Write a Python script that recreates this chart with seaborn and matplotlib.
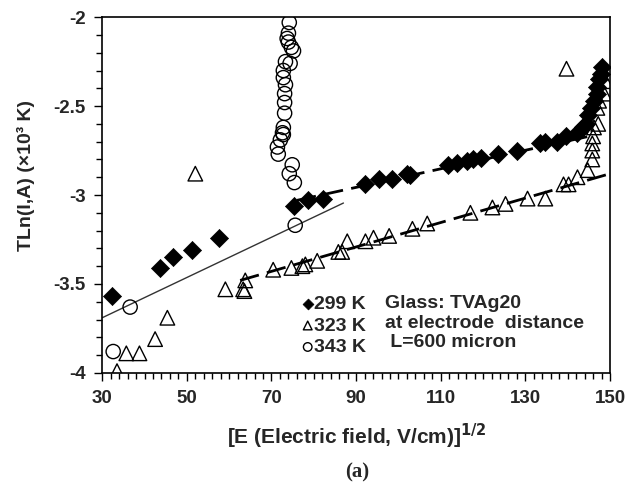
import numpy as np
import pandas as pd
import matplotlib
matplotlib.use("Agg")
import matplotlib.pyplot as plt
from matplotlib.ticker import MultipleLocator
import seaborn as sns

# --- data ---
x_299 = [32.4, 43.7, 46.8, 51.3, 57.7, 75.4, 78.7, 82.2, 92.2, 95.3, 98.5, 102.0,
         102.8, 111.8, 113.9, 116.3, 117.7, 119.4, 123.6, 127.9, 133.5, 134.7,
         137.5, 139.5, 142.3, 143.5, 144.2, 144.9, 145.6, 146.3, 147.0, 147.0,
         147.5, 147.8, 148.0]
y_299 = [-3.57, -3.41, -3.35, -3.31, -3.24, -3.06, -3.03, -3.02, -2.94, -2.91,
         -2.91, -2.88, -2.89, -2.83, -2.82, -2.81, -2.80, -2.79, -2.77, -2.75,
         -2.71, -2.70, -2.70, -2.67, -2.65, -2.62, -2.60, -2.55, -2.51, -2.47,
         -2.43, -2.39, -2.35, -2.32, -2.28]

x_323 = [33.5, 35.7, 38.8, 42.5, 45.4, 52.0, 59.1, 63.3, 63.6, 63.8, 70.4, 74.7,
         77.3, 78.0, 80.8, 85.8, 86.7, 87.9, 92.2, 94.1, 97.8, 103.3, 106.8,
         117.0, 122.2, 125.3, 130.5, 134.7, 139.0, 140.2, 139.7, 142.3, 144.7,
         145.8, 145.8, 145.8, 146.0, 146.2, 147.2, 147.0, 147.4, 148.6, 148.9]
y_323 = [-3.99, -3.89, -3.89, -3.81, -3.69, -2.88, -3.53, -3.53, -3.54, -3.48,
         -3.42, -3.41, -3.40, -3.39, -3.37, -3.32, -3.32, -3.26, -3.26, -3.24,
         -3.23, -3.19, -3.16, -3.10, -3.07, -3.05, -3.02, -3.02, -2.94, -2.94,
         -2.29, -2.90, -2.86, -2.80, -2.75, -2.71, -2.67, -2.62, -2.60, -2.51,
         -2.47, -2.43, -2.36]

x_343 = [32.6, 36.6, 75.6, 74.2, 74.0, 73.7, 74.0, 74.7, 75.2, 73.3, 74.4, 72.8,
         72.8, 73.3, 73.1, 73.1, 73.1, 72.8, 72.6, 72.8, 72.1, 71.4, 71.6, 74.9,
         74.2, 75.4]
y_343 = [-3.88, -3.63, -3.17, -2.03, -2.09, -2.12, -2.14, -2.17, -2.19, -2.25,
         -2.26, -2.30, -2.34, -2.38, -2.43, -2.48, -2.54, -2.62, -2.65, -2.66,
         -2.69, -2.73, -2.77, -2.83, -2.88, -2.93]

# linear fit lines as drawn in the figure (end points)
fit_299_x = [76.0, 145.0]
fit_299_y = [-3.03, -2.67]
fit_323_x = [62.6, 150.0]
fit_323_y = [-3.48, -2.88]
fit_343_x = [30.0, 87.0]
fit_343_y = [-3.69, -3.045]

labels = ["299 K", "323 K", "343 K"]
x_ticks = [30, 50, 70, 90, 110, 130, 150]
y_ticks = [-4, -3.5, -3, -2.5, -2]

sns.set_style("white")
plt.rcParams["font.family"] = ["Liberation Sans", "DejaVu Sans"]
plt.rcParams["font.weight"] = "bold"

fig = plt.figure(figsize=(6.27, 4.90), dpi=100)
ax = fig.add_axes([0.163, 0.239, 0.810, 0.726])

# fit lines
sns.lineplot(x=fit_343_x, y=fit_343_y, ax=ax, color="#333333", linewidth=1.0)
sns.lineplot(x=fit_299_x, y=fit_299_y, ax=ax, color="black", linewidth=2.0,
             linestyle=(0, (7, 3)))
sns.lineplot(x=fit_323_x, y=fit_323_y, ax=ax, color="black", linewidth=2.0,
             linestyle=(0, (7, 3)))

df299 = pd.DataFrame({"x": x_299, "y": y_299})
df323 = pd.DataFrame({"x": x_323, "y": y_323})
df343 = pd.DataFrame({"x": x_343, "y": y_343})

sns.scatterplot(data=df299, x="x", y="y", ax=ax, marker="D", s=85,
                color="black", edgecolor="black", linewidth=0.5, label=labels[0], zorder=3)
sns.scatterplot(data=df323, x="x", y="y", ax=ax, marker="^", s=110,
                facecolor="none", edgecolor="black", linewidth=1.0, label=labels[1], zorder=3)
sns.scatterplot(data=df343, x="x", y="y", ax=ax, marker="o", s=105,
                facecolor="none", edgecolor="black", linewidth=1.0, label=labels[2], zorder=3)

ax.set_xlim(30, 150)
ax.set_ylim(-4, -2)
ax.set_xticks(x_ticks)
ax.set_yticks(y_ticks)
ax.set_yticklabels([f"{v:g}" for v in y_ticks])
ax.xaxis.set_minor_locator(MultipleLocator(2))
ax.yaxis.set_minor_locator(MultipleLocator(0.1))
ax.tick_params(axis="both", which="major", direction="out", length=6, width=1,
               labelsize=13.5, color="black", pad=6)
ax.tick_params(axis="both", which="minor", direction="out", length=4, width=1,
               color="black")
ax.tick_params(axis="both", which="both", bottom=True, left=True)
for sp in ax.spines.values():
    sp.set_color("black")
    sp.set_linewidth(1.2)

ax.set_xlabel(r"[E (Electric field, V/cm)]$^{\mathbf{1/2}}$", fontsize=15,
              fontweight="bold", labelpad=11)
ax.set_ylabel("TLn(I,A) (×10³ K)", fontsize=14, fontweight="bold")
ax.yaxis.set_label_coords(-0.132, 0.555)

leg = ax.legend(loc="upper left", bbox_to_anchor=(0.374, 0.245), frameon=False,
                handletextpad=0.0, handlelength=0.6, borderpad=0, labelspacing=0.2,
                prop={"size": 14, "weight": "bold"}, markerscale=0.6)

ax.text(0.557, 0.14, "Glass: TVAg20\nat electrode  distance\n L=600 micron",
        transform=ax.transAxes, fontsize=14, fontweight="bold", va="center",
        ha="left", linespacing=1.2)

fig.text(0.57, 0.036, "(a)", fontsize=15, fontweight="bold",
         family=["Liberation Serif", "DejaVu Serif"], ha="center", va="center")

fig.savefig("out.png", dpi=100)
